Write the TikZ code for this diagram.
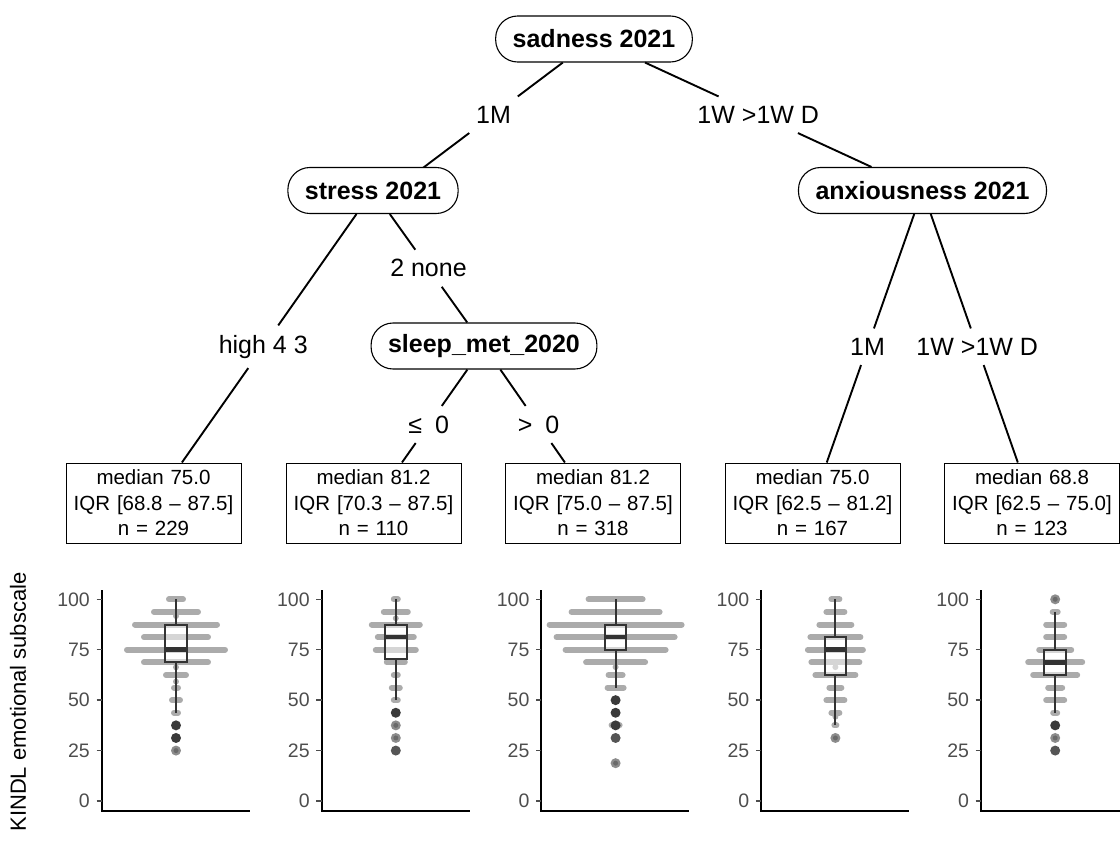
\documentclass[tikz,border=0pt]{standalone}
\usepackage{fontspec}
\setmainfont{Liberation Sans}
\usetikzlibrary{calc}
\pgfdeclarelayer{bg}
\pgfsetlayers{bg,main}
\definecolor{jgray}{HTML}{ABABAB}
\definecolor{bxcol}{HTML}{333333}
\definecolor{tickcol}{HTML}{4D4D4D}
\definecolor{odark}{HTML}{3A3A3A}
\definecolor{omid}{HTML}{555555}
\definecolor{olight}{HTML}{8C8C8C}
\definecolor{olightc}{HTML}{6A6A6A}
\tikzset{
  innernode/.style={draw, line width=1.1pt, fill=white, rounded corners=22pt, minimum height=46pt,
    inner xsep=17pt, inner ysep=0pt, font=\fontsize{25}{30}\selectfont\bfseries},
  elab/.style={inner xsep=8pt, inner ysep=9.5pt, font=\fontsize{25}{30}\selectfont},
  tbox/.style={draw, line width=1pt, text width=165pt, inner xsep=5pt, align=center,
    minimum height=80pt, font=\fontsize{20.5}{25.5}\selectfont},
  edgeline/.style={line width=1.9pt},
  axl/.style={line width=2pt, black},
  tk/.style={line width=1.5pt, tickcol},
  tl/.style={anchor=east, inner sep=0pt, text=tickcol, font=\fontsize{19.5}{22}\selectfont},
  jbar/.style={line width=6pt, line cap=round, jgray},
  bx/.style={line width=2pt, bxcol},
  med/.style={line width=4.5pt, bxcol},
}
\newcommand\paxes[1]{%
  \draw[axl] (-74.3,104.6) -- (-74.3,-4.96) -- (73.7,-4.96);
  \foreach \t in {0,25,50,75,100} {%
    \draw[tk] (-79.5,\t) -- (-74.3,\t);
    \node[tl] (tick#1-\t) at (-86,\t) {\t};}
}
\newcommand\pbars[1]{%
  \foreach \v/\h in {#1} {\draw[jbar] ({-\h+3},\v) -- ({\h-3},\v);}}
\newcommand\pdots[1]{%
  \foreach \v in {#1} {\fill[jgray] (0,\v) circle[radius=3pt];}}
\newcommand\pbox[5]{% q1 med q3 wl wu
  \draw[bx] (0,#3) -- (0,#5);
  \draw[bx] (0,#1) -- (0,#4);
  \draw[bx, fill=white, fill opacity=0.5] (-10.8,#1) rectangle (10.8,#3);
  \draw[med] (-10.8,#2) -- (10.8,#2);}
\newcommand\odk[1]{\fill[odark] (0,#1) circle[radius=5pt];}
\newcommand\omd[1]{\fill[omid] (0,#1) circle[radius=5pt];}
\newcommand\olt[1]{\fill[olight] (0,#1) circle[radius=5pt]; \fill[olightc] (0,#1) circle[radius=2.5pt];}
\begin{document}
\begin{tikzpicture}[x=1pt,y=-1pt]
\useasboundingbox (0,0) rectangle (1120,843);

% inner nodes
\node[innernode] (sad) at (594,39) {sadness 2021};
\node[innernode] (str) at (373,190.5) {stress 2021};
\node[innernode] (anx) at (922.5,190.5) {anxiousness 2021};
\node[innernode] (slp) at (484,346) {sleep\_met\_2020};
\coordinate (strin) at (393,190.5);

% terminal nodes
\node[tbox] (t1) at (153.5,503) {median 75.0\\IQR [68.8 – 87.5]\\n = 229};
\node[tbox] (t2) at (373.5,503) {median 81.2\\IQR [70.3 – 87.5]\\n = 110};
\node[tbox] (t3) at (593,503) {median 81.2\\IQR [75.0 – 87.5]\\n = 318};
\node[tbox] (t4) at (812.5,503) {median 75.0\\IQR [62.5 – 81.2]\\n = 167};
\node[tbox] (t5) at (1032,503) {median 68.8\\IQR [62.5 – 75.0]\\n = 123};

% edge labels
\node[elab] (e1) at ($(sad)!0.5!(strin)$) {1M};
\node[elab] (e2) at ($(sad)!0.5!(anx)$) {1W >1W D};
\node[elab] (e3) at ($(str)!0.5!(t1)$) {high 4 3};
\node[elab] (e4) at ($(str)!0.5!(slp)$) {2 none};
\node[elab] (e5) at ($(slp)!0.5!(t2)$) {≤\hspace{13pt}0};
\node[elab] (e6) at ($(slp)!0.5!(t3)$) {>\hspace{13pt}0};
\node[elab] (e7) at ($(anx)!0.5!(t4)$) {1M};
\node[elab] (e8) at ($(anx)!0.5!(t5)$) {1W >1W D};

% edges
\begin{pgfonlayer}{bg}
\draw[edgeline] (sad) -- (e1) -- (strin);
\end{pgfonlayer}
\draw[edgeline] (sad) -- (e2) -- (anx);
\draw[edgeline] (str) -- (e3) -- (t1);
\draw[edgeline] (str) -- (e4) -- (slp);
\draw[edgeline] (slp) -- (e5) -- (t2);
\draw[edgeline] (slp) -- (e6) -- (t3);
\draw[edgeline] (anx) -- (e7) -- (t4);
\draw[edgeline] (anx) -- (e8) -- (t5);

% y axis title
\node[rotate=90, font=\fontsize{22}{26}\selectfont] (ytitle) at (18,702) {KINDL emotional subscale};

% panel 1
\begin{scope}[shift={(176,801)}, x=1pt, y=2.017pt]
  \paxes{1}
  \pbars{100/10, 93.75/25, 87.5/44, 81.25/35, 75/52, 68.75/35, 62.5/13, 56.25/5, 50/7, 43.75/5}
  \pdots{91.7, 66.3, 59.2}
  \pbox{68.75}{75}{87.5}{43.75}{100}
  \odk{37.5} \odk{31.25} \olt{25}
\end{scope}

% panel 2
\begin{scope}[shift={(395.8,801)}, x=1pt, y=2.017pt]
  \paxes{2}
  \pbars{100/5, 93.75/15, 87.5/27, 81.25/21, 75/23, 68.75/12, 62.5/5, 56.25/7, 50/5}
  \pdots{90.6}
  \pbox{70.3}{81.25}{87.5}{50}{100}
  \odk{43.75} \olt{37.5} \olt{31.25} \omd{25}
\end{scope}

% panel 3
\begin{scope}[shift={(615.6,801)}, x=1pt, y=2.017pt]
  \paxes{3}
  \pbars{100/30, 93.75/47, 87.5/69, 81.25/62, 75/53, 68.75/32.5, 62.5/10, 56.25/11, 37.5/7}
  \pdots{66.4}
  \pbox{75}{81.25}{87.5}{56.25}{100}
  \odk{50} \odk{43.75} \odk{37.5} \omd{31.25} \olt{18.75}
\end{scope}

% panel 4
\begin{scope}[shift={(835.4,801)}, x=1pt, y=2.017pt]
  \paxes{4}
  \pbars{100/7, 93.75/12, 87.5/19, 81.25/28, 75/30.5, 68.75/27, 62.5/23, 56.25/9, 50/12, 43.75/7, 37.5/4}
  \pdots{66.4, 41.8}
  \pbox{62.5}{75}{81.25}{37.5}{100}
  \olt{31.25}
\end{scope}

% panel 5
\begin{scope}[shift={(1055.2,801)}, x=1pt, y=2.017pt]
  \paxes{5}
  \pbars{93.75/5.5, 87.5/12, 81.25/12, 75/19, 68.75/30, 62.5/25, 56.25/10, 50/12, 43.75/5}
  \pbox{62.5}{68.75}{75}{43.75}{93.75}
  \olt{100} \odk{37.5} \olt{31.25} \omd{25}
\end{scope}
\end{tikzpicture}
\end{document}
